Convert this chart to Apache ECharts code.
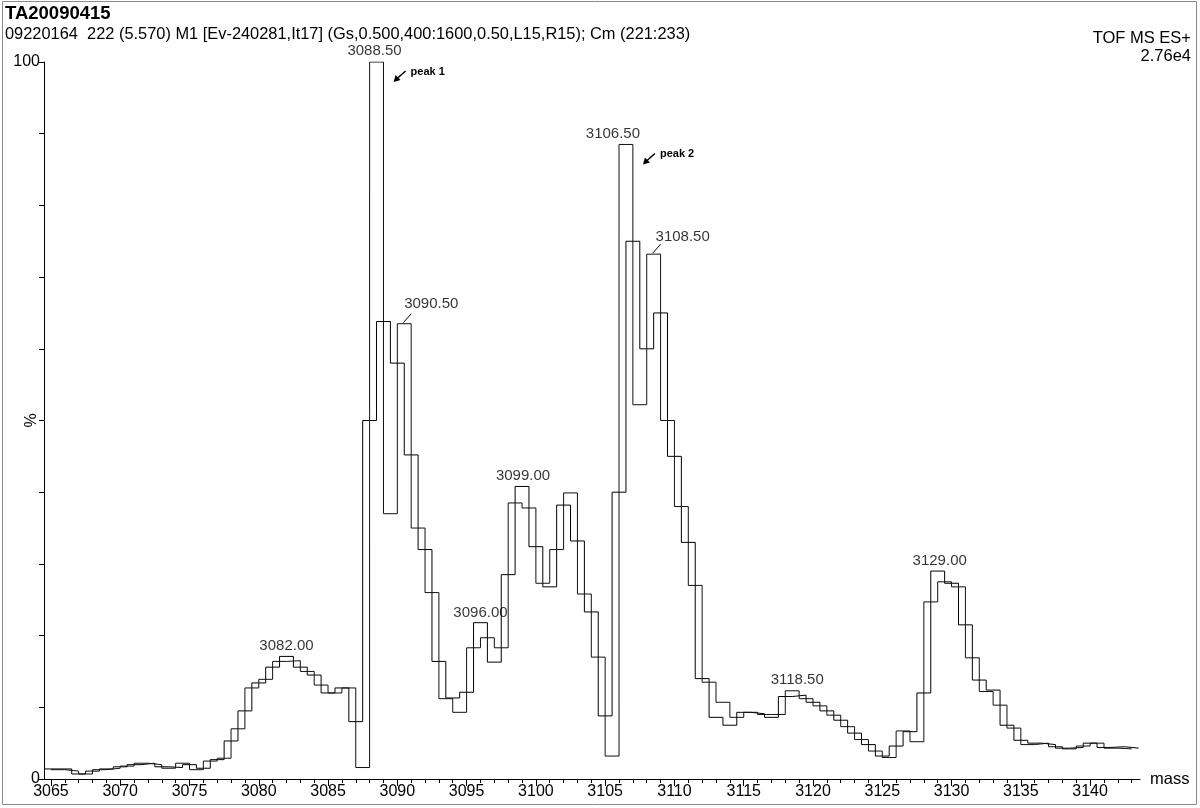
<!DOCTYPE html>
<html>
<head>
<meta charset="utf-8">
<script src="https://cdn.jsdelivr.net/npm/echarts/dist/echarts.min.js"></script>
<style>
  html, body { margin: 0; padding: 0; background: #fff; }
  #chart { width: 1200px; height: 808px; }
</style>
</head>
<body>
<div id="chart"></div>
<script>
// ---- data (m/z in 0.5 steps, relative intensity %) ----
const masses = [
  3065.0,3065.5,3066.0,3066.5,3067.0,3067.5,3068.0,3068.5,3069.0,3069.5,
  3070.0,3070.5,3071.0,3071.5,3072.0,3072.5,3073.0,3073.5,3074.0,3074.5,
  3075.0,3075.5,3076.0,3076.5,3077.0,3077.5,3078.0,3078.5,3079.0,3079.5,
  3080.0,3080.5,3081.0,3081.5,3082.0,3082.5,3083.0,3083.5,3084.0,3084.5,
  3085.0,3085.5,3086.0,3086.5,3087.0,3087.5,3088.0,3088.5,3089.0,3089.5,
  3090.0,3090.5,3091.0,3091.5,3092.0,3092.5,3093.0,3093.5,3094.0,3094.5,
  3095.0,3095.5,3096.0,3096.5,3097.0,3097.5,3098.0,3098.5,3099.0,3099.5,
  3100.0,3100.5,3101.0,3101.5,3102.0,3102.5,3103.0,3103.5,3104.0,3104.5,
  3105.0,3105.5,3106.0,3106.5,3107.0,3107.5,3108.0,3108.5,3109.0,3109.5,
  3110.0,3110.5,3111.0,3111.5,3112.0,3112.5,3113.0,3113.5,3114.0,3114.5,
  3115.0,3115.5,3116.0,3116.5,3117.0,3117.5,3118.0,3118.5,3119.0,3119.5,
  3120.0,3120.5,3121.0,3121.5,3122.0,3122.5,3123.0,3123.5,3124.0,3124.5,
  3125.0,3125.5,3126.0,3126.5,3127.0,3127.5,3128.0,3128.5,3129.0,3129.5,
  3130.0,3130.5,3131.0,3131.5,3132.0,3132.5,3133.0,3133.5,3134.0,3134.5,
  3135.0,3135.5,3136.0,3136.5,3137.0,3137.5,3138.0,3138.5,3139.0,3139.5,
  3140.0,3140.5,3141.0,3141.5,3142.0,3142.5,3143.0
];
const intensity = [
  1.4,1.3,1.4,1.1,0.7,0.7,1.1,1.3,1.4,1.5,
  1.7,1.8,2.0,2.2,2.2,2.0,1.7,1.5,1.6,2.2,
  2.0,1.3,1.5,2.5,2.7,2.9,5.3,7.0,9.5,12.7,
  13.4,13.9,15.6,16.4,17.1,16.5,15.6,15.0,14.5,13.1,
  12.0,12.0,12.7,12.7,8.0,1.6,50.0,100,63.8,37.0,
  58.0,63.5,45.2,35.0,32.0,26.0,16.4,11.2,11.3,9.3,
  12.1,18.3,21.8,19.7,16.3,18.3,28.5,38.5,40.8,37.8,
  32.4,27.3,26.8,32.0,38.2,39.9,33.2,25.8,23.3,17.0,
  8.8,3.2,40.0,88.5,75.0,52.2,60.0,73.2,65.0,50.0,
  45.0,38.0,33.0,27.0,14.0,13.5,8.6,10.7,7.5,8.6,
  9.3,9.3,9.1,9.0,8.6,9.0,11.5,12.3,11.7,11.2,
  10.7,10.2,9.5,8.9,8.2,7.3,6.4,5.5,4.8,3.9,
  3.2,3.0,4.6,6.7,6.6,5.2,12.0,24.7,29.0,27.5,
  27.3,26.8,21.5,16.9,13.8,12.2,12.4,10.3,7.5,7.1,
  5.4,4.8,5.0,5.0,4.8,4.5,4.3,4.2,4.4,4.6,
  5.0,5.0,4.4,4.3,4.5,4.2,4.3
];
const peakMasses = [3082.0, 3088.5, 3090.5, 3096.0, 3099.0, 3106.5, 3108.5, 3118.5, 3129.0];
const xTickValues = [3065,3070,3075,3080,3085,3090,3095,3100,3105,3110,3115,3120,3125,3130,3135,3140];
const yTickLabels = [0, 100];
const titleText = 'TA20090415';
const subtitleText = '09220164  222 (5.570) M1 [Ev-240281,It17] (Gs,0.500,400:1600,0.50,L15,R15); Cm (221:233)';
const instrumentText = 'TOF MS ES+';
const scaleText = '2.76e4';

// ---- styling / layout ----
const FONT = '"Liberation Sans", Arial, Helvetica, sans-serif';
const labelOffsets = {
  3082.0: [0, 0], 3088.5: [-2, -1], 3090.5: [27, -9], 3096.0: [0, 1], 3099.0: [1, 0],
  3106.5: [-13, 0], 3108.5: [29, -7], 3118.5: [5, 0], 3129.0: [2, 0]
};

function stepTrace(parity) {
  const pts = [];
  masses.forEach((m, i) => {
    if (Math.round(m * 2) % 2 === parity) {
      pts.push([m - 0.5, intensity[i]], [m + 0.5, intensity[i]]);
    }
  });
  return pts;
}
function valueAt(m) { return intensity[masses.indexOf(m)]; }

const minorTicks = [];
for (let v = 3065; v <= 3143; v++) minorTicks.push(v);

const chart = echarts.init(document.getElementById('chart'), null, { renderer: 'canvas' });

const option = {
  animation: false,
  backgroundColor: '#fff',
  textStyle: { fontFamily: FONT, color: '#000' },
  grid: { left: 44, right: 60, top: 62, bottom: 29, containLabel: false, outerBoundsMode: 'none' },
  xAxis: [
    {
      type: 'value', min: 3064.5, max: 3143.6, position: 'bottom',
      name: 'mass', nameLocation: 'end', nameGap: 10, nameMoveOverlap: false,
      nameTextStyle: { fontSize: 16.5, color: '#000', fontFamily: FONT },
      axisLine: { show: true, onZero: false, lineStyle: { color: '#000', width: 1 } },
      axisTick: { show: true, length: 7, inside: false, customValues: xTickValues, lineStyle: { color: '#000' } },
      axisLabel: { show: true, customValues: xTickValues, fontSize: 16, color: '#000', margin: 5, fontFamily: FONT,
                   hideOverlap: false, formatter: v => String(v) },
      splitLine: { show: false }
    },
    {
      type: 'value', min: 3064.5, max: 3143.6, position: 'bottom',
      axisLine: { show: false, onZero: false },
      axisTick: { show: true, length: 4, inside: false, customValues: minorTicks, lineStyle: { color: '#000' } },
      axisLabel: { show: false },
      splitLine: { show: false }
    }
  ],
  yAxis: {
    type: 'value', min: 0, max: 100, interval: 10,
    name: '%', nameLocation: 'middle', nameGap: 4, nameRotate: 90, nameMoveOverlap: false,
    nameTextStyle: { fontSize: 16, color: '#000', fontFamily: FONT },
    axisLine: { show: true, lineStyle: { color: '#000', width: 1 } },
    axisTick: { show: true, length: 5, lineStyle: { color: '#000' } },
    axisLabel: { show: true, customValues: yTickLabels, fontSize: 16, color: '#000', margin: 4, fontFamily: FONT,
                 formatter: v => String(v) },
    splitLine: { show: false }
  },
  series: [
    {
      type: 'line', name: 'integer', data: stepTrace(0), showSymbol: false, symbol: 'none',
      lineStyle: { color: '#000', width: 1 }, z: 3, silent: true
    },
    {
      type: 'line', name: 'half', data: stepTrace(1), showSymbol: false, symbol: 'none',
      lineStyle: { color: '#111', width: 1 }, z: 3, silent: true
    },
    {
      type: 'scatter', name: 'labels', symbolSize: 0, z: 5, silent: true,
      data: peakMasses.map(m => ({
        value: [m, valueAt(m)],
        label: { offset: labelOffsets[m] || [0, 0] }
      })),
      label: {
        show: true, position: 'top', distance: 3, fontSize: 15, color: '#000', fontFamily: FONT,
        formatter: p => p.value[0].toFixed(2)
      }
    }
  ]
};
chart.setOption(option);

// ---- annotations positioned via the chart's own scales ----
function px(m, v) { return chart.convertToPixel({ gridIndex: 0 }, [m, v]); }
const graphics = [];
// outer frame
graphics.push({ type: 'rect', shape: { x: 2.5, y: 1.5, width: 1194, height: 803 },
  style: { fill: null, stroke: '#8a8a8a', lineWidth: 1 }, silent: true });
// header texts
graphics.push({ type: 'text', left: 5, top: 4, style: { text: titleText, font: 'bold 18.5px ' + FONT, fill: '#000' } });
graphics.push({ type: 'text', left: 5, top: 26, style: { text: subtitleText, font: '16.4px ' + FONT, fill: '#000' } });
graphics.push({ type: 'text', right: 9, top: 30, style: { text: instrumentText, font: '16.5px ' + FONT, fill: '#000', align: 'right' } });
graphics.push({ type: 'text', right: 9, top: 48, style: { text: scaleText, font: '16.5px ' + FONT, fill: '#000', align: 'right' } });

// leader lines for shifted labels
[3090.5, 3108.5].forEach(m => {
  const p = px(m, valueAt(m));
  graphics.push({ type: 'line', shape: { x1: p[0] - 1, y1: p[1] - 1, x2: p[0] + 7, y2: p[1] - 10 },
    style: { stroke: '#000', lineWidth: 1 }, silent: true });
});

// "peak 1" / "peak 2" arrows
function peakArrow(m, text) {
  const p = px(m, valueAt(m));
  const tx = p[0] + 29, ty = p[1] + 9;      // arrow tail
  const hx = p[0] + 17, hy = p[1] + 20;     // arrow head
  graphics.push({ type: 'line', shape: { x1: tx, y1: ty, x2: hx + 3, y2: hy - 3 },
    style: { stroke: '#000', lineWidth: 1.5 }, silent: true });
  graphics.push({ type: 'polygon', shape: { points: [[hx, hy], [hx + 2, hy - 7], [hx + 7, hy - 2]] },
    style: { fill: '#000' }, silent: true });
  graphics.push({ type: 'text', x: p[0] + 34, y: p[1] + 4,
    style: { text: text, font: 'bold 11px ' + FONT, fill: '#000' }, silent: true });
}
peakArrow(3088.5, 'peak 1');
peakArrow(3106.5, 'peak 2');

chart.setOption({ graphic: graphics });
</script>
</body>
</html>
